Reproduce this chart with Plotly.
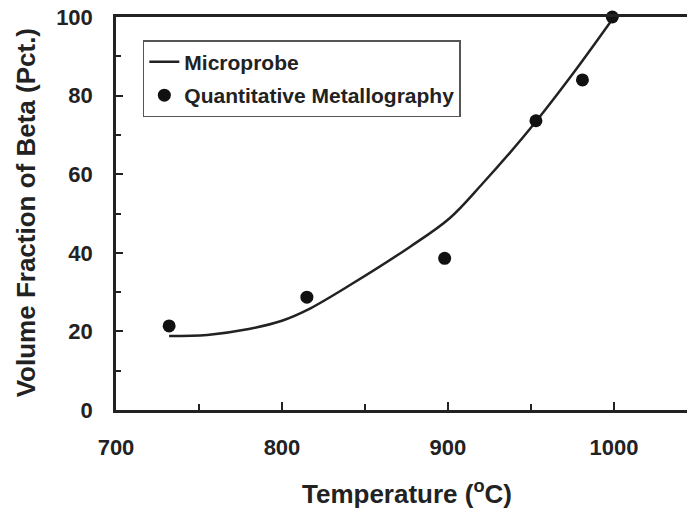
import plotly.graph_objects as go

# Microprobe curve
curve_x = [732, 755, 780, 800, 815, 841, 877, 901, 921, 937, 953, 976, 1000]
curve_y = [18.8, 19.1, 20.6, 22.7, 25.4, 31.8, 41.5, 48.8, 57.7, 65.3, 73.4, 86.0, 100]

# Quantitative metallography points
pts_x = [732, 815, 898, 953, 981, 999]
pts_y = [21.4, 28.7, 38.6, 73.6, 84.0, 100]

x_ticks = [700, 800, 900, 1000]
y_ticks = [0, 20, 40, 60, 80, 100]

FONT = "Liberation Sans"
INK = "#222"

fig = go.Figure()
fig.add_trace(go.Scatter(x=curve_x, y=curve_y, mode="lines", name="<b>Microprobe</b>",
                         legendgroup="a",
                         line=dict(color=INK, width=2.5, shape="spline", smoothing=1.0)))
fig.add_trace(go.Scatter(x=pts_x, y=pts_y, mode="markers", name="<b>Quantitative Metallography</b>",
                         legendgroup="b",
                         marker=dict(color="#111", size=13), cliponaxis=False))

fig.update_layout(
    width=687, height=511,
    margin=dict(l=116, r=0, t=17, b=101),
    paper_bgcolor="white", plot_bgcolor="white",
    font=dict(family=FONT, color=INK),
    showlegend=True,
    legend=dict(x=0.047, y=0.941, xanchor="left", yanchor="top",
                bordercolor="#555", borderwidth=1.5, bgcolor="white",
                font=dict(size=21, family=FONT, color=INK),
                itemwidth=30, traceorder="grouped", tracegroupgap=3),
    annotations=[
        dict(text="<b>Temperature (<sup>o</sup>C)</b>", xref="paper", yref="paper",
             x=0.51, y=-0.211, xanchor="center", yanchor="middle", showarrow=False,
             font=dict(size=26, family=FONT, color=INK)),
        dict(text="<b>Volume Fraction of Beta (Pct.)</b>", xref="paper", yref="paper",
             x=-0.158, y=0.5025, xanchor="center", yanchor="middle", showarrow=False,
             textangle=-90, font=dict(size=26, family=FONT, color=INK)),
    ],
)
fig.update_xaxes(
    range=[700, 1044], tickvals=x_ticks, ticktext=[f"<b>{v}</b>" for v in x_ticks],
    ticks="inside", ticklen=8, tickwidth=2, tickcolor=INK,
    minor=dict(dtick=50, ticks="inside", ticklen=6, tickwidth=2, tickcolor=INK),
    showline=True, linewidth=2.5, linecolor=INK, mirror=True,
    showgrid=False, zeroline=False,
    tickfont=dict(size=22, family=FONT, color=INK),
    ticklabelstandoff=16,
)
fig.update_yaxes(
    range=[0, 100], tickvals=y_ticks, ticktext=[f"<b>{v}</b>" for v in y_ticks],
    ticks="inside", ticklen=7, tickwidth=2, tickcolor=INK,
    minor=dict(dtick=10, ticks="inside", ticklen=5, tickwidth=2, tickcolor=INK),
    showline=True, linewidth=2.5, linecolor=INK,
    showgrid=False, zeroline=False,
    tickfont=dict(size=22, family=FONT, color=INK),
    ticklabelstandoff=16,
)

fig.write_html("out.html")
